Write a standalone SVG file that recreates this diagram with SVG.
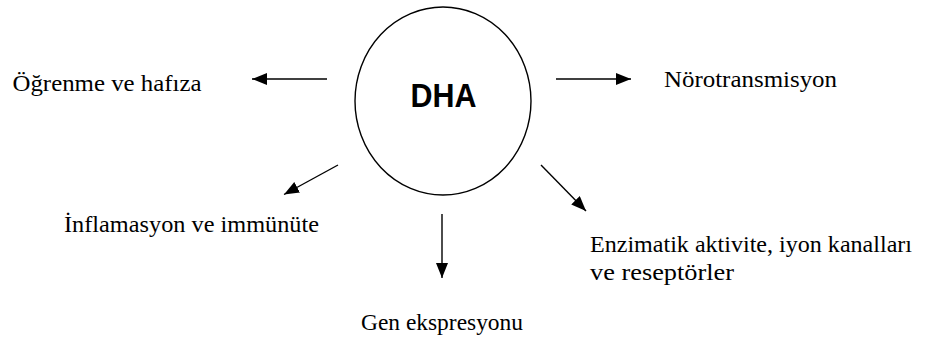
<svg xmlns="http://www.w3.org/2000/svg" width="928" height="339" viewBox="0 0 928 339">
<defs>
<marker id="ah" markerUnits="userSpaceOnUse" markerWidth="16" markerHeight="12" refX="15" refY="6" orient="auto">
<path d="M0,0 L15,6 L0,12 Z" fill="#000"/>
</marker>
<style>
.lbl{font-family:"Liberation Serif","Times New Roman",serif;font-size:24px;fill:#000}
.c{stroke:#000;stroke-width:1.4;fill:none;marker-end:url(#ah)}
</style>
</defs>
<rect width="928" height="339" fill="#fff"/>
<g id="dha">
<ellipse cx="443" cy="101" rx="88" ry="94" fill="#fff" stroke="#000" stroke-width="1.4"/>
<text x="443.5" y="107" text-anchor="middle" font-family="Liberation Sans,Arial,sans-serif" font-weight="bold" font-size="33" textLength="66" lengthAdjust="spacingAndGlyphs">DHA</text>
</g>
<g id="connectors">
<line class="c" x1="327" y1="79" x2="252" y2="79"/>
<line class="c" x1="556" y1="79" x2="631" y2="79"/>
<line class="c" x1="338" y1="165" x2="284" y2="194.5"/>
<line class="c" x1="541" y1="165" x2="586" y2="211"/>
<line class="c" x1="442" y1="214" x2="442" y2="278"/>
</g>
<g id="ogrenme"><text class="lbl" x="12.5" y="91" textLength="189" lengthAdjust="spacingAndGlyphs">Öğrenme ve hafıza</text></g>
<g id="norotransmisyon"><text class="lbl" x="664" y="87" textLength="173" lengthAdjust="spacingAndGlyphs">Nörotransmisyon</text></g>
<g id="inflamasyon"><text class="lbl" x="64" y="232" textLength="255" lengthAdjust="spacingAndGlyphs">İnflamasyon ve immünüte</text></g>
<g id="enzimatik">
<text class="lbl" x="590" y="252" textLength="322" lengthAdjust="spacingAndGlyphs">Enzimatik aktivite, iyon kanalları</text>
<text class="lbl" x="590" y="280" textLength="144" lengthAdjust="spacingAndGlyphs">ve reseptörler</text>
</g>
<g id="gen"><text class="lbl" x="361" y="330" textLength="162" lengthAdjust="spacingAndGlyphs">Gen ekspresyonu</text></g>
</svg>
